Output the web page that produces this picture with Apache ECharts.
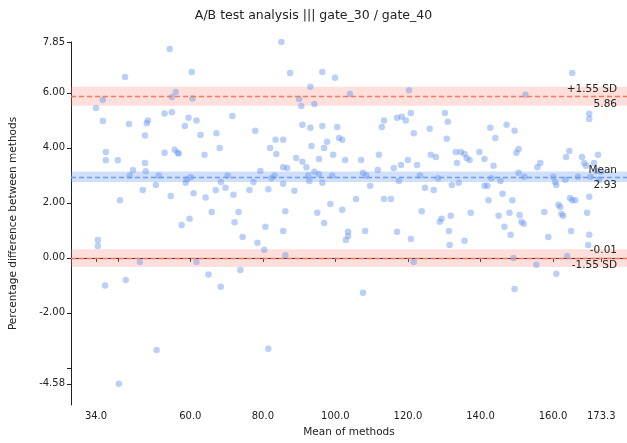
<!DOCTYPE html>
<html><head><meta charset="utf-8">
<script src="https://cdn.jsdelivr.net/npm/echarts@6/dist/echarts.min.js"></script>
<style>html,body{margin:0;padding:0;background:#fff}#c{width:627px;height:443px}</style>
</head><body><div id="c"></div>
<script>
const xVals=[34.0,34.5,34.5,35.9,35.9,36.5,36.7,36.7,40.0,40.3,40.6,42,42.2,43.1,43.3,44.2,46.1,46.9,47.5,48,47.5,48.3,47.7,50.5,50.7,51.3,52.9,52.9,54.3,54.6,54.9,54.9,55.7,56,56.5,56.8,57.6,58.5,58.7,59,59.5,59.8,60.1,60.4,60.6,60.9,61.7,61.7,62.8,63.9,64.2,65,65.9,67,67.2,68.1,68.4,68.4,69.7,70.3,71.6,71.9,72.2,73.3,73.8,74.4,76.3,77.4,77.9,78.5,79.3,80.4,80.7,81.5,81.5,82,82.4,83.2,83.5,83.7,85.1,85.6,85.6,85.6,85.6,86.2,86.2,86.7,87.5,88.7,89.2,90,90.6,90.9,90.9,92,92.5,92.8,93.1,93.1,93.4,94.2,94.2,95,95.5,95.5,96.4,96.4,96.4,96.9,96.9,97.7,98.6,99.1,99.4,99.9,100.5,101,101.9,101.9,102.7,102.9,103.5,103.5,104,105.7,107.1,107.6,107.6,108.5,108.2,109.6,111.7,112,112.8,113.4,113.4,115.3,116.1,117,117,117.5,118.1,118.3,119.4,120,120.3,120.8,120.8,121.6,121.6,122.5,123.3,123.8,124.7,126,126.3,127.1,127.7,128.3,128.8,129.3,130.2,130.7,131,131.3,131.5,131.8,132.1,133.2,133.5,134,134.6,135.6,135.6,136.2,137,137.3,139.7,141.1,141.1,141.9,142.2,142.7,143,143.6,144.1,145,145.5,146.1,146.6,147.2,148,148.3,148.8,149.1,149.4,149.4,149.9,150.5,150.5,150.8,151.3,151.9,152.1,152.4,155.4,155.7,156.5,157.6,158.7,160.1,160.6,160.9,160.9,161.5,162,162.3,162.8,163.4,163.6,163.9,164.5,164.7,165,165.3,165.3,166.1,166.9,168,168.6,169.1,169.4,169.7,170,170,170,170,170.3,171.3,171.9,172.4,172.7,173.3];
const yVals=[5.45,0.65,0.43,5.75,4.98,-1.0,3.85,3.55,3.55,-4.58,2.1,6.58,-0.8,4.87,3.0,3.2,-0.15,2.47,3.45,4.9,4.45,5.0,3.15,2.65,-3.35,3.0,5.25,3.82,7.6,2.25,5.85,5.3,3.93,6.03,3.82,3.8,1.2,4.8,2.73,2.85,5.1,1.42,2.93,6.76,5.8,2.35,-0.15,5.0,4.47,3.75,2.2,-0.6,1.67,2.47,4.53,4.0,2.76,-1.05,2.55,3.0,5.16,2.3,1.3,1.67,-0.44,0.76,2.47,2.76,4.62,0.55,3.16,0.3,1.13,-3.3,2.5,4.0,2.9,3.0,4.3,3.78,7.85,4.3,3.3,2.7,0.98,1.7,0.1,3.27,6.72,2.44,3.63,5.78,5.52,3.5,4.84,3.3,3.0,2.8,4.73,6.22,4.07,5.6,3.13,1.64,3.6,3.05,4.8,6.76,2.73,4.0,1.27,4.22,1.96,3.0,3.75,6.55,4.76,4.36,4.3,1.75,3.56,0.65,0.8,0.95,5.96,2.14,3.56,3.1,-1.27,3.0,0.98,2.62,3.2,3.75,4.76,5.0,2.14,2.14,3.27,5.1,0.95,2.8,3.38,5.13,5.0,3.56,6.1,0.69,5.27,-0.15,4.53,3.38,3.0,1.7,2.55,4.7,3.75,2.47,3.67,2.9,1.31,1.42,5.27,4.33,4.95,0.98,0.47,1.53,2.65,3.85,3.45,2.73,3.85,0.62,3.78,3.63,3.56,1.64,3.85,2.62,3.6,2.62,2.1,4.73,2.9,3.35,4.36,1.53,2.8,2.33,1.13,4.84,1.64,0.84,2.1,0.0,4.62,-1.13,3.82,3.96,3.1,1.56,1.31,1.24,2.95,5.93,-0.25,3.3,3.45,1.67,0.76,2.95,2.76,2.65,-0.58,1.93,1.85,1.6,1.53,2.84,3.67,0.07,3.89,2.18,0.98,6.72,2.1,2.1,2.95,3.67,3.45,3.35,1.64,0.47,5.05,5.24,2.22,0.84,2.95,3.45,3.16,3.75,2.84,3.13];
const xTicks=[34.0,40,60,80,100,120,140,160,173.3];
const xLabels=[34.0,60,80,100,120,140,160,173.3];
const yTicks=[-4.58,-4,-2,0,2,4,6,7.85];
const yLabels=[-4.58,-2,0,2,4,6,7.85];
const meanDiff=2.93, upper=5.86, lower=-0.01;
const bands={upper:[5.53,6.22],mean:[2.76,3.14],lower:[-0.33,0.31]};

const pts=xVals.map((x,i)=>[x,yVals[i]]);
const chart=echarts.init(document.getElementById('c'));
const red='#f07a5a', blue='#6f9be8';
const lbl=(txt,pos)=>({show:true,formatter:txt,position:pos,color:'#222',fontSize:10.5,fontFamily:'DejaVu Sans',distance:[10,2]});
chart.setOption({
 animation:false,
 title:{text:'A/B test analysis ||| gate_30 / gate_40',left:'center',top:4,textStyle:{fontSize:12.5,fontWeight:'normal',color:'#222',fontFamily:'DejaVu Sans'}},
 grid:{left:69,right:0,top:42,bottom:38,containLabel:false},
 xAxis:{type:'value',min:27.1,max:180.4,name:'Mean of methods',nameLocation:'middle',nameGap:22,
  nameTextStyle:{fontSize:10.5,color:'#222',fontFamily:'DejaVu Sans'},
  axisLine:{lineStyle:{color:'#222'}},splitLine:{show:false},
  axisTick:{customValues:xTicks,lineStyle:{color:'#222'},length:4},
  axisLabel:{customValues:xLabels,formatter:v=>v.toFixed(1),fontSize:10,color:'#222',fontFamily:'DejaVu Sans',margin:6}},
 yAxis:{type:'value',min:-5.35,max:7.85,name:'Percentage difference between methods',nameLocation:'middle',nameGap:52,
  nameTextStyle:{fontSize:10.5,color:'#222',fontFamily:'DejaVu Sans'},
  axisLine:{show:true,lineStyle:{color:'#222'}},splitLine:{show:false},
  axisTick:{show:true,customValues:yTicks,lineStyle:{color:'#222'},length:4},
  axisLabel:{customValues:yLabels,formatter:v=>v.toFixed(2),fontSize:10,color:'#222',fontFamily:'DejaVu Sans',margin:6}},
 series:[{type:'scatter',data:pts,symbolSize:6.5,
  itemStyle:{color:'rgba(100,149,237,0.55)'},
  markArea:{silent:true,data:[
   [{yAxis:bands.upper[0],itemStyle:{color:'rgba(250,128,114,0.25)'}},{yAxis:bands.upper[1]}],
   [{yAxis:bands.mean[0],itemStyle:{color:'rgba(100,149,237,0.3)'}},{yAxis:bands.mean[1]}],
   [{yAxis:bands.lower[0],itemStyle:{color:'rgba(250,128,114,0.25)'}},{yAxis:bands.lower[1]}]]},
  markLine:{silent:true,symbol:'none',data:[
   {yAxis:upper,lineStyle:{color:red,type:[5,3],width:1.4},label:lbl('+1.55 SD','insideEndTop')},
   {yAxis:upper,lineStyle:{width:0},label:lbl(upper.toFixed(2),'insideEndBottom')},
   {yAxis:meanDiff,lineStyle:{color:blue,type:[5,3],width:1.4},label:lbl('Mean','insideEndTop')},
   {yAxis:meanDiff,lineStyle:{width:0},label:lbl(meanDiff.toFixed(2),'insideEndBottom')},
   {yAxis:lower,lineStyle:{color:red,type:[5,3],width:1.4},label:lbl(lower.toFixed(2),'insideEndTop')},
   {yAxis:lower,lineStyle:{width:0},label:lbl('-1.55 SD','insideEndBottom')}]}}]
});
</script></body></html>
